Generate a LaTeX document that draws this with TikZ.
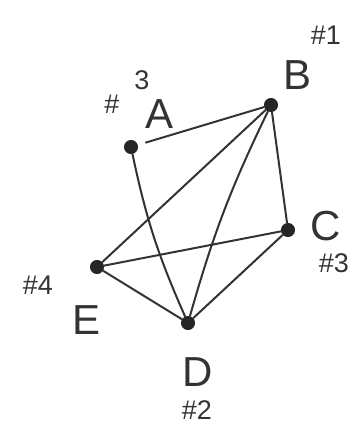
\documentclass[tikz,border=0pt]{standalone}
\usepackage{fontspec}
\setmainfont{Liberation Sans}
\begin{document}
\begin{tikzpicture}[x=1pt,y=-1pt,
  vtx/.style={circle,fill=black!85,draw=black!85,line width=1pt,inner sep=0pt,minimum size=13pt},
  edge/.style={draw=black!80,line width=2pt},
  lbl/.style={text=black!80,font=\fontsize{42}{42}\selectfont,inner sep=0pt},
  num/.style={text=black!80,font=\fontsize{27}{27}\selectfont,inner sep=0pt}]
\useasboundingbox (0,0) rectangle (353,426);
\node[vtx] (A) at (131,147) {};
\node[vtx] (B) at (271,105) {};
\node[vtx] (C) at (288,230) {};
\node[vtx] (E) at (97,267) {};
\node[vtx] (D) at (188,323) {};
\draw[edge,shorten <=8pt] (A) -- (B);
\draw[edge] (A) to[bend right=6] (D);
\draw[edge] (B) -- (E);
\draw[edge] (B) to[bend right=5] (D);
\draw[edge] (B) -- (C);
\draw[edge] (E) -- (C);
\draw[edge] (E) -- (D);
\draw[edge] (C) -- (D);
\node[lbl] (la) at (160,114) {A};
\node[num] (na) at (112,104) {\#};
\node[num] (na3) at (142,80) {3};
\node[lbl] (lb) at (298,75) {B};
\node[num] (nb) at (326,35) {\#1};
\node[lbl] (lc) at (326,226) {C};
\node[num] (nc) at (334,263) {\#3};
\node[lbl] (le) at (87,320) {E};
\node[num] (ne) at (38,285) {\#4};
\node[lbl] (ld) at (198,372) {D};
\node[num] (nd) at (197,410) {\#2};
\end{tikzpicture}
\end{document}
